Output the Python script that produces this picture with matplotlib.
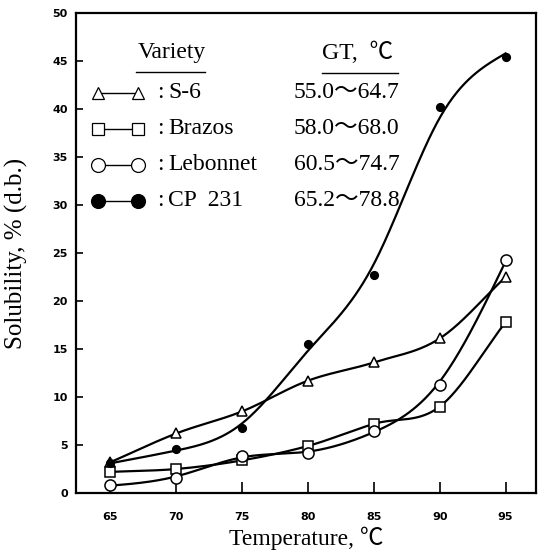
import numpy as np
import matplotlib
matplotlib.use("Agg")
import matplotlib.pyplot as plt

temps = [65, 70, 75, 80, 85, 90, 95]
s6 = [3.2, 6.2, 8.5, 11.7, 13.6, 16.1, 22.5]
brazos = [2.2, 2.5, 3.4, 4.9, 7.2, 9.0, 17.8]
lebonnet = [0.8, 1.6, 3.9, 4.2, 6.5, 11.3, 24.3]
cp231 = [3.1, 4.6, 6.8, 15.5, 22.7, 40.2, 45.4]

varieties = ["S-6", "Brazos", "Lebonnet", "CP  231"]
gt_ranges = ["55.0～64.7", "58.0～68.0", "60.5～74.7", "65.2～78.8"]

SERIF = ["Liberation Serif", "Noto Sans CJK JP", "DejaVu Serif"]


def catmull(x, y, n=40):
    # smooth curve through the points (hand-drawn look)
    p = np.column_stack([x, y]).astype(float)
    p = np.vstack([2 * p[0] - p[1], p, 2 * p[-1] - p[-2]])
    out = []
    t = np.linspace(0, 1, n)[:, None]
    for i in range(1, len(p) - 2):
        p0, p1, p2, p3 = p[i - 1], p[i], p[i + 1], p[i + 2]
        seg = 0.5 * ((2 * p1) + (-p0 + p2) * t
                     + (2 * p0 - 5 * p1 + 4 * p2 - p3) * t**2
                     + (-p0 + 3 * p1 - 3 * p2 + p3) * t**3)
        out.append(seg)
    c = np.vstack(out)
    return c[:, 0], c[:, 1]


def smooth(x, y, lam=3.0, step=0.1):
    # penalised smoothing curve (like a drawn best-fit line)
    x = np.asarray(x, float)
    y = np.asarray(y, float)
    xs = np.arange(x[0], x[-1] + step / 2, step)
    n = len(xs)
    idx = np.rint((x - x[0]) / step).astype(int)
    W = np.zeros((n, n))
    b = np.zeros(n)
    W[idx, idx] = 1.0
    b[idx] = y
    D = np.diff(np.eye(n), 2, axis=0)
    A = W + (lam / step**3) * D.T @ D
    return xs, np.linalg.solve(A, b)


def smooth_lo(x, y):
    return smooth(x, y, lam=2.0)


fig = plt.figure(figsize=(5.39, 5.55), dpi=100)
ax = fig.add_axes([0.141, 0.1117, 0.8533, 0.8649])

series = [
    (s6, catmull, dict(marker="^", ms=6.5, mfc="white")),
    (brazos, catmull, dict(marker="s", ms=7, mfc="white")),
    (lebonnet, smooth_lo, dict(marker="o", ms=8, mfc="white")),
    (cp231, smooth, dict(marker="o", ms=5.5, mfc="black")),
]

for vals, curve, st in series:
    xs, ys = curve(temps, vals)
    ax.plot(xs, ys, color="black", lw=1.6, zorder=2)
    ax.plot(temps, vals, ls="none", color="black", mec="black", mew=1.1,
            zorder=3, **st)

ax.set_xlim(62.4, 97.3)
ax.set_ylim(0, 50)
ax.set_xticks(temps)
ax.set_yticks(np.arange(0, 51, 5))
ax.tick_params(axis="x", direction="in", length=8, width=1.2, pad=14,
               labelsize=8)
ax.tick_params(axis="y", direction="in", length=5, width=1.2, pad=6,
               labelsize=8)
for lab in ax.get_xticklabels() + ax.get_yticklabels():
    lab.set_fontweight("semibold")
for sp in ax.spines.values():
    sp.set_linewidth(1.6)

ax.set_xlabel("Temperature, ℃", family=SERIF, fontsize=17, labelpad=3)
ax.set_ylabel("Solubility, % (d.b.)", family=SERIF, fontsize=18)
ax.yaxis.set_label_coords(-0.105, 0.5)


# legend block, positioned in pixels of the reference
def px(x, y):
    return (x - 76) / 460.0, (493 - y) / 480.0


tr = ax.transAxes
ax.text(*px(172, 53), "Variety", transform=tr, ha="center", va="center",
        family=SERIF, fontsize=17)
ax.text(*px(358, 53), "GT,  ℃", transform=tr, ha="center", va="center",
        family=SERIF, fontsize=17)
for x0, x1, yy in [(136, 205, 72), (322, 398, 73)]:
    a = px(x0, yy)
    b = px(x1, yy)
    ax.plot([a[0], b[0]], [a[1], b[1]], color="black", lw=1.0,
            transform=tr, clip_on=False)

row_y = [93, 129, 165, 201]
key_styles = [
    dict(marker="^", ms=9, mfc="white"),
    dict(marker="s", ms=9, mfc="white"),
    dict(marker="o", ms=10, mfc="white"),
    dict(marker="o", ms=10, mfc="black"),
]
for yy, name, gt, st in zip(row_y, varieties, gt_ranges, key_styles):
    a = px(98, yy)
    b = px(138, yy)
    ax.plot([a[0], b[0]], [a[1], b[1]], color="black", lw=1.0,
            mec="black", mew=0.9, transform=tr, clip_on=False, **st)
    ax.text(*px(160, yy), ":", transform=tr, ha="center", va="center",
            family=SERIF, fontsize=17)
    ax.text(*px(168, yy), name, transform=tr, ha="left", va="center",
            family=SERIF, fontsize=17)
    ax.text(*px(294, yy), gt, transform=tr, ha="left", va="center",
            family=SERIF, fontsize=17)

fig.savefig("out.png", dpi=100)
